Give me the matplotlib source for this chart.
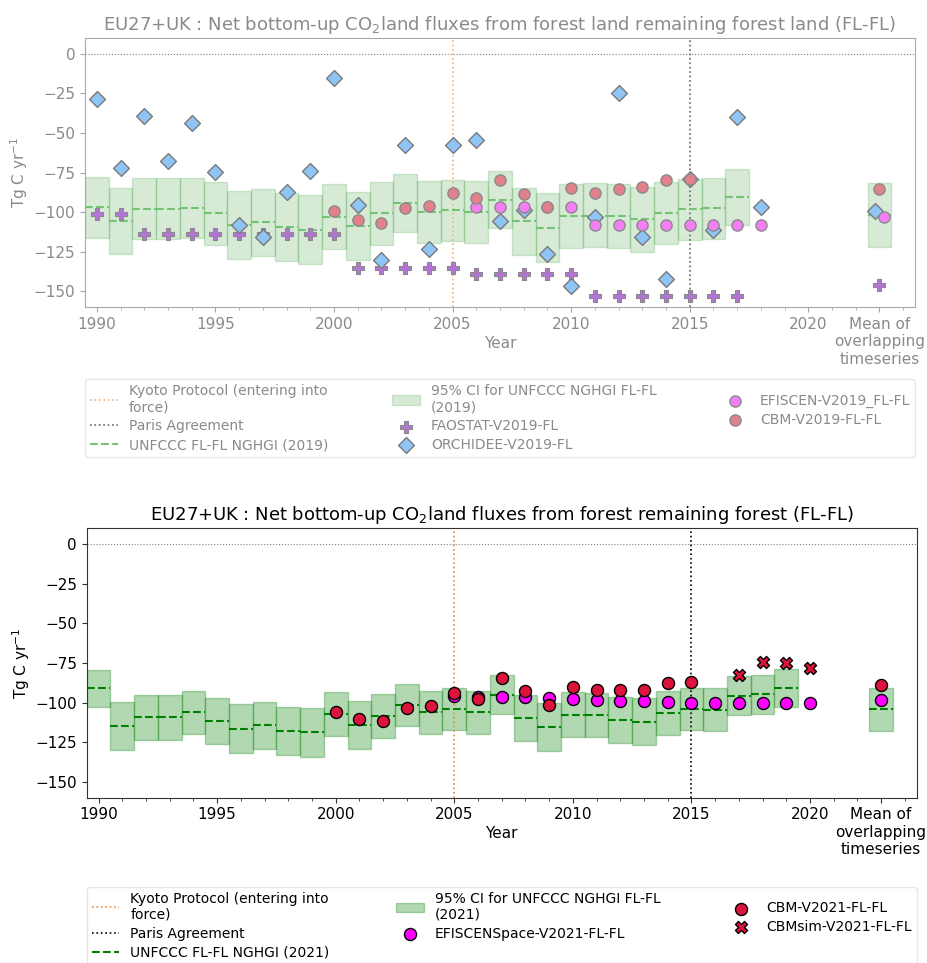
import numpy as np
import matplotlib.pyplot as plt

# ---- 2019 panel data ----
years19 = np.arange(1990, 2018)
unf19_mean = [-97.0, -105.6, -97.8, -97.8, -97.4, -100.6, -108.3, -106.2, -109.6, -111.0,
              -102.9, -108.5, -100.8, -94.1, -99.7, -98.9, -99.7, -92.2, -105.8, -109.8,
              -102.7, -102.2, -102.5, -104.3, -100.4, -98.0, -97.4, -90.5]
unf19_hi = [-77.9, -84.9, -78.6, -78.6, -78.1, -80.7, -86.7, -85.5, -87.6, -89.0,
            -82.5, -87.2, -80.9, -75.6, -80.0, -79.4, -80.2, -74.2, -85.0, -88.0,
            -82.1, -81.7, -82.1, -83.8, -80.9, -79.0, -78.4, -72.7]
unf19_lo = [-116.0, -126.5, -116.9, -116.9, -116.5, -120.5, -129.3, -127.4, -130.7, -132.6,
            -123.2, -129.9, -120.7, -112.7, -119.4, -118.4, -119.6, -110.2, -127.0, -131.6,
            -122.6, -121.9, -122.6, -124.9, -120.3, -117.3, -116.7, -108.1]
unf19_mean_ovl = [-101.6, -81.7, -121.7]  # mean, hi, lo

orch_years = np.arange(1990, 2019)
orch = [-28.7, -71.9, -39.0, -67.7, -43.6, -74.4, -107.9, -115.9, -87.4, -73.7,
        -15.3, -95.7, -130.3, -57.4, -123.0, -57.4, -54.1, -105.6, -98.5, -126.1,
        -146.7, -103.1, -24.9, -115.6, -142.0, -79.0, -111.0, -40.0, -96.6]
orch_mean = -99.5

fao_years = np.arange(1990, 2018)
fao = [-101.4, -101.4, -114, -114, -114, -114, -114, -114, -114, -114, -114,
       -135, -135, -135, -135, -135, -139.3, -139.3, -139.3, -139.3, -139.3,
       -152.7, -152.7, -152.7, -152.7, -152.7, -152.7, -152.7]
fao_mean = -146.2

efi19_years = np.arange(2006, 2019)
efi19 = [-97, -97, -97, -97, -97, -108.3, -108.3, -108.3, -108.3, -108.3, -108.3, -108.3, -108.3]
efi19_mean = -102.9

cbm19_years = np.arange(2000, 2016)
cbm19 = [-99.3, -104.8, -106.9, -97.4, -96.0, -88.0, -91.3, -79.4, -88.2, -96.8,
         -84.9, -87.6, -85.3, -84.0, -79.6, -79.2]
cbm19_mean = -85.5

# ---- 2021 panel data ----
years21 = np.arange(1990, 2020)
unf21_mean = [-91.1, -114.8, -109.2, -109.2, -106.0, -111.5, -116.5, -114.4, -117.7, -118.8,
              -107.3, -114.4, -108.5, -101.4, -106.0, -103.9, -106.2, -94.9, -110.0, -115.4,
              -107.7, -107.9, -111.0, -112.1, -106.6, -103.9, -104.8, -95.7, -94.7, -90.7]
unf21_hi = [-79.4, -99.9, -95.1, -95.1, -92.4, -97.2, -101.2, -99.5, -102.7, -103.5,
            -93.4, -99.3, -94.5, -88.4, -92.6, -90.5, -92.4, -82.8, -95.5, -100.3,
            -93.6, -93.9, -96.6, -97.4, -92.8, -90.5, -91.1, -83.4, -82.5, -79.0]
unf21_lo = [-102.9, -129.9, -123.4, -123.4, -119.8, -126.3, -131.6, -129.3, -133.2, -134.3,
            -121.3, -129.1, -122.6, -114.6, -119.8, -117.3, -119.8, -107.3, -124.2, -130.3,
            -121.7, -121.9, -125.5, -126.8, -120.5, -117.3, -118.2, -108.1, -106.9, -102.5]
unf21_mean_ovl = [-104.3, -90.9, -117.7]

cbm21_years = np.arange(2000, 2016)
cbm21 = [-106.0, -110.6, -111.7, -103.7, -102.2, -93.9, -97.6, -84.4, -92.6, -101.8,
         -90.1, -92.2, -92.0, -92.0, -87.8, -86.7]
cbm21_mean = -88.6

efis_years = np.arange(2005, 2021)
efis = [-95.7, -96.6, -96.6, -96.6, -97.2, -97.6, -98.3, -98.7, -99.3, -99.7,
        -100.1, -100.1, -100.1, -100.1, -100.1, -100.1]
efis_mean = -98.5

cbmsim_years = np.arange(2017, 2021)
cbmsim = [-82.3, -74.4, -75.2, -77.9]

MEAN_X = 2023
xticks = [1990, 1995, 2000, 2005, 2010, 2015, 2020, MEAN_X]
xticklabels = ['1990', '1995', '2000', '2005', '2010', '2015', '2020',
               'Mean of\noverlapping\ntimeseries']

fig = plt.figure(figsize=(9.28, 9.63), dpi=100)
ax1 = fig.add_axes([0.0916, 0.681, 0.8944, 0.2795])
ax2 = fig.add_axes([0.0934, 0.1717, 0.8944, 0.2797])


def setup(ax, tc, sc, title):
    ax.set_xlim(1989.5, 2024.5)
    ax.set_ylim(-160, 10)
    ax.set_xticks(xticks)
    ax.set_xticklabels(xticklabels, fontsize=11, color=tc)
    ax.set_xticks(np.arange(1990, 2025), minor=True)
    ax.set_yticks(np.arange(-150, 1, 25))
    ax.tick_params(axis='y', labelsize=11, labelcolor=tc, color=sc)
    ax.tick_params(axis='x', which='both', color=sc)
    for s in ax.spines.values():
        s.set_color(sc)
    ax.set_xlabel('Year', fontsize=11, color=tc)
    ax.xaxis.set_label_coords(0.5, -0.107)
    ax.set_ylabel('Tg C yr$^{-1}$', fontsize=11, color=tc)
    ax.yaxis.set_label_coords(-0.066, 0.5)
    ax.set_title(title, fontsize=13, color=tc)
    ax.axhline(0, color='gray', ls=':', lw=0.8, zorder=1)


# ---------- top panel (faded) ----------
tc1 = '#8a8a8a'
setup(ax1, tc1, '#a8a8a8',
      'EU27+UK : Net bottom-up CO$_2$land fluxes from forest land remaining forest land (FL-FL)')
k1 = ax1.axvline(2005, color='#f4b27a', ls=':', lw=1.2, label='Kyoto Protocol (entering into\nforce)')
p1 = ax1.axvline(2015, color='#666666', ls=':', lw=1.2, label='Paris Agreement')
hi, lo = np.array(unf19_hi), np.array(unf19_lo)
ci1 = ax1.bar(years19, hi - lo, bottom=lo, width=1, color='green', alpha=0.16,
              edgecolor='green', linewidth=1, label='95% CI for UNFCCC NGHGI FL-FL\n(2019)')
ax1.bar([MEAN_X], [unf19_mean_ovl[1] - unf19_mean_ovl[2]], bottom=[unf19_mean_ovl[2]], width=1,
        color='green', alpha=0.16, edgecolor='green', linewidth=1)
ax1.hlines(unf19_mean, years19 - 0.5, years19 + 0.5, colors='#74c274', linestyles='--', lw=1.5)
ax1.hlines([unf19_mean_ovl[0]], MEAN_X - 0.5, MEAN_X + 0.5, colors='#74c274', linestyles='--', lw=1.5)
un1, = ax1.plot([], [], color='#74c274', ls='--', lw=1.5, label='UNFCCC FL-FL NGHGI (2019)')
fa1 = ax1.scatter(list(fao_years) + [MEAN_X], fao + [fao_mean], marker='P', s=80,
                  color='#b474d6', edgecolors='#8a8a8a', linewidths=0.8, zorder=4,
                  label='FAOSTAT-V2019-FL')
or1 = ax1.scatter(list(orch_years) + [MEAN_X - 0.2], orch + [orch_mean], marker='D', s=65,
                  color='#8ec5f5', edgecolors='#7a7a7a', linewidths=1, zorder=4,
                  label='ORCHIDEE-V2019-FL')
ef1 = ax1.scatter(list(efi19_years) + [MEAN_X + 0.2], efi19 + [efi19_mean], marker='o', s=65,
                  color='#f47ef4', edgecolors='#8a8a8a', linewidths=1, zorder=5,
                  label='EFISCEN-V2019_FL-FL')
cb1 = ax1.scatter(list(cbm19_years) + [MEAN_X], cbm19 + [cbm19_mean], marker='o', s=65,
                  color='#e2808c', edgecolors='#8a8a8a', linewidths=1, zorder=5,
                  label='CBM-V2019-FL-FL')
leg1 = ax1.legend(handles=[k1, p1, un1, ci1, fa1, or1, ef1, cb1], ncol=3, mode='expand',
                  loc='upper left', bbox_to_anchor=(0, -0.368, 1, 0.1), fontsize=10,
                  frameon=True, borderaxespad=0, labelspacing=0.35, borderpad=0.35)
for t in leg1.get_texts():
    t.set_color(tc1)
leg1.get_frame().set_edgecolor('#e0e0e0')

# ---------- bottom panel ----------
setup(ax2, 'black', '#333333',
      'EU27+UK : Net bottom-up CO$_2$land fluxes from forest remaining forest (FL-FL)')
k2 = ax2.axvline(2005, color='#e8893a', ls=':', lw=1.2, label='Kyoto Protocol (entering into\nforce)')
p2 = ax2.axvline(2015, color='black', ls=':', lw=1.2, label='Paris Agreement')
hi, lo = np.array(unf21_hi), np.array(unf21_lo)
ci2 = ax2.bar(years21, hi - lo, bottom=lo, width=1, color='green', alpha=0.3,
              edgecolor='green', linewidth=1, label='95% CI for UNFCCC NGHGI FL-FL\n(2021)')
ax2.bar([MEAN_X], [unf21_mean_ovl[1] - unf21_mean_ovl[2]], bottom=[unf21_mean_ovl[2]], width=1,
        color='green', alpha=0.3, edgecolor='green', linewidth=1)
ax2.hlines(unf21_mean, years21 - 0.5, years21 + 0.5, colors='green', linestyles='--', lw=1.5)
ax2.hlines([unf21_mean_ovl[0]], MEAN_X - 0.5, MEAN_X + 0.5, colors='green', linestyles='--', lw=1.5)
un2, = ax2.plot([], [], color='green', ls='--', lw=1.5, label='UNFCCC FL-FL NGHGI (2021)')
ef2 = ax2.scatter(list(efis_years) + [MEAN_X], efis + [efis_mean], marker='o', s=75,
                  color='magenta', edgecolors='black', linewidths=1, zorder=4,
                  label='EFISCENSpace-V2021-FL-FL')
cb2 = ax2.scatter(list(cbm21_years) + [MEAN_X], cbm21 + [cbm21_mean], marker='o', s=75,
                  color='crimson', edgecolors='black', linewidths=1, zorder=5,
                  label='CBM-V2021-FL-FL')
cs2 = ax2.scatter(cbmsim_years, cbmsim, marker='X', s=75, color='crimson',
                  edgecolors='black', linewidths=1, zorder=5, label='CBMsim-V2021-FL-FL')
leg2 = ax2.legend(handles=[k2, p2, un2, ci2, ef2, cb2, cs2], ncol=3, mode='expand',
                  loc='upper left', bbox_to_anchor=(0, -0.431, 1, 0.1), fontsize=10,
                  frameon=True, borderaxespad=0, labelspacing=0.35, borderpad=0.35)
leg2.get_frame().set_edgecolor('#e0e0e0')

fig.savefig('out.png', dpi=100)
